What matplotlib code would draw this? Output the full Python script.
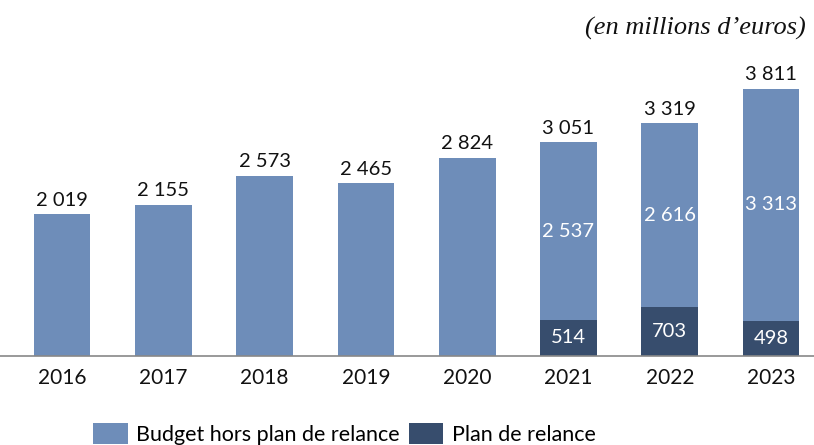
import matplotlib
matplotlib.use("Agg")
import matplotlib.pyplot as plt

years = ["2016", "2017", "2018", "2019", "2020", "2021", "2022", "2023"]
budget_hors = [2019, 2155, 2573, 2465, 2824, 2537, 2616, 3313]
plan_relance = [0, 0, 0, 0, 0, 514, 703, 498]
totals = [2019, 2155, 2573, 2465, 2824, 3051, 3319, 3811]

light = "#6E8DB9"
dark = "#374D6D"
font = ["Lato", "DejaVu Sans"]

def fmt(v):
    return f"{v:,}".replace(",", " ")

fig = plt.figure(figsize=(8.14, 4.45), dpi=100)
ax = fig.add_axes([0.0, 0.2, 1.0, 0.8])
x = list(range(len(years)))
w = 0.56

ax.bar(x, plan_relance, width=w, color=dark, label="Plan de relance", zorder=2)
ax.bar(x, budget_hors, width=w, bottom=plan_relance, color=light,
       label="Budget hors plan de relance", zorder=2)

fs = 14.5
for i in x:
    ax.annotate(fmt(totals[i]), (i, totals[i]), xytext=(0, 4), textcoords="offset points",
                ha="center", va="bottom", fontsize=fs, family=font, color="#111111")
    if plan_relance[i] > 0:
        ax.text(i, plan_relance[i] + budget_hors[i] / 2, fmt(budget_hors[i]), ha="center",
                va="center", fontsize=fs, family=font, color="white")
        ax.text(i, plan_relance[i] / 2, fmt(plan_relance[i]), ha="center", va="center",
                fontsize=fs, family=font, color="white")

ax.set_xlim(-0.612, 7.424)
ax.set_ylim(0, 5078)
ax.set_yticks([])
ax.set_xticks(x)
ax.set_xticklabels(years, fontsize=15, family=font, color="#111111")
ax.tick_params(axis="x", length=0, pad=9)
for s in ["top", "right", "left"]:
    ax.spines[s].set_visible(False)
ax.spines["bottom"].set_color("#888888")
ax.spines["bottom"].set_linewidth(1.2)

fig.text(0.99, 0.935, "(en millions d\u2019euros)", ha="right", va="center", fontsize=19,
         style="italic", family=["Liberation Serif", "DejaVu Serif"], color="#111111")

handles, labels = ax.get_legend_handles_labels()
leg = fig.legend(handles[::-1], labels[::-1], loc="center", bbox_to_anchor=(0.423, 0.025),
                 ncol=2, frameon=False, prop={"family": font, "size": 15.5},
                 handlelength=1.6, handleheight=1.1, handletextpad=0.4, columnspacing=0.4)

fig.savefig("out.png", dpi=100)
